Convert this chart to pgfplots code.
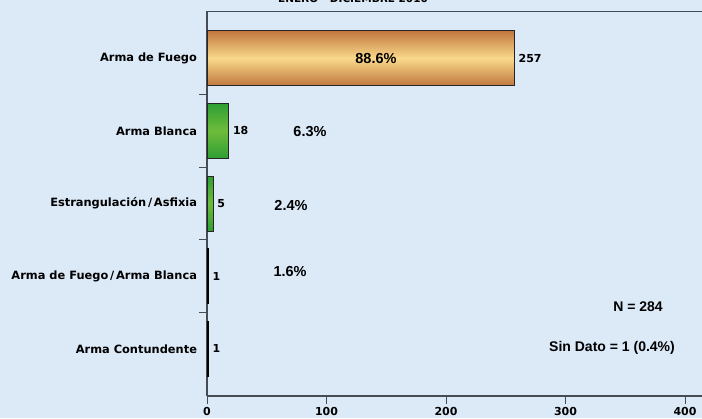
\documentclass[border=0pt]{standalone}
\usepackage{pgfplots}
\pgfplotsset{compat=1.18}
\usepackage{fontspec}
\newfontfamily\verd{DejaVu Sans}[BoldFont={DejaVu Sans Bold}]
\newfontfamily\arialb{Liberation Sans}[BoldFont={Liberation Sans Bold}]
\definecolor{bg}{HTML}{DCE9F7}
\definecolor{axisgray}{HTML}{454C55}
\definecolor{orEdge}{HTML}{C0773E}
\definecolor{orMid}{HTML}{FAD98B}
\definecolor{grEdge}{HTML}{2E9E34}
\definecolor{grMid}{HTML}{6EBC3B}
\newcommand{\wslash}{\kern1.8bp/\kern1.8bp}
\begin{document}
\begin{tikzpicture}[x=1bp,y=1bp]
\path[use as bounding box] (0,0) rectangle (702,418);
\begin{scope}
\clip (0,0) rectangle (702,418);
\fill[bg] (0,0) rectangle (702,418);
\node[anchor=base, inner sep=0pt, font=\verd\bfseries\fontsize{10.5bp}{12bp}\selectfont] at (353,415) {ENERO - DICIEMBRE 2010};
\begin{axis}[
  at={(207bp,22bp)}, anchor=south west,
  scale only axis, width=495bp, height=385bp,
  xmin=0, xmax=414.2, ymin=-0.65, ymax=4.65,
  axis x line*=bottom, axis y line*=left,
  axis line style={draw=axisgray, line width=1.8bp, -},
  tick align=outside,
  major tick length=8bp, minor tick length=8bp,
  tick style={draw=axisgray, line width=0.9bp},
  xtick={0,100,200,300,400},
  xticklabels={0,100,200,300,400},
  ytick={0,1,2,3,4},
  yticklabels={Arma Contundente, Arma de Fuego\wslash Arma Blanca, Estrangulación\wslash Asfixia, Arma Blanca, Arma de Fuego},
  major y tick style={draw=none},
  minor ytick={0.5,1.5,2.5,3.5},
  ticklabel style={font=\verd\bfseries\fontsize{11.4bp}{13bp}\selectfont, text=black},
  xticklabel style={font=\verd\bfseries\fontsize{11bp}{13bp}\selectfont},
  yticklabel style={xshift=1.5bp},
  /pgf/number format/assume math mode=true,
  xbar, bar width=55bp, bar shift=0pt,
]
\draw[axisgray, line width=1.8bp] (rel axis cs:0,1) -- (rel axis cs:1,1);
\addplot[xbar, bar width=55bp, bar shift=0pt, draw=black!85, line width=0.8bp,
  top color=orEdge, bottom color=orEdge, middle color=orMid]
  coordinates {(257,4)};
\addplot[xbar, bar width=55bp, bar shift=0pt, draw=black!85, line width=0.8bp,
  top color=grEdge, bottom color=grEdge, middle color=grMid]
  coordinates {(18,3)};
\addplot[xbar, bar width=55bp, bar shift=0pt, draw=black!85, line width=0.8bp,
  top color=grEdge, bottom color=grEdge, middle color=grMid]
  coordinates {(5,2)};
\addplot[xbar, bar width=55bp, bar shift=0pt, draw=black, line width=1bp, fill=grEdge]
  coordinates {(1,1)};
\addplot[xbar, bar width=55bp, bar shift=0pt, draw=black, line width=1bp, fill=grEdge]
  coordinates {(1,0)};
\addplot[xbar, bar width=55bp, bar shift=0pt, draw=none, fill=none,
  point meta=x, nodes near coords, nodes near coords align={horizontal},
  every node near coord/.append style={font=\verd\bfseries\fontsize{11bp}{13bp}\selectfont, text=black, xshift=1bp}]
  coordinates {(257,4) (18,3) (5,2) (1,1) (1,0)};
\node[font=\arialb\bfseries\fontsize{14.5bp}{16bp}\selectfont] at (axis cs:141.4,4) {88.6\%};
\node[font=\arialb\bfseries\fontsize{14.5bp}{16bp}\selectfont] at (axis cs:86.2,2.985) {6.3\%};
\node[font=\arialb\bfseries\fontsize{14.5bp}{16bp}\selectfont] at (axis cs:70.3,1.966) {2.4\%};
\node[font=\arialb\bfseries\fontsize{14.5bp}{16bp}\selectfont] at (axis cs:69.5,1.057) {1.6\%};
\node[font=\arialb\bfseries\fontsize{14bp}{16bp}\selectfont] at (axis cs:360.7,0.575) {N = 284};
\node[font=\arialb\bfseries\fontsize{14bp}{16bp}\selectfont] at (axis cs:338.9,0.011) {Sin Dato = 1 (0.4\%)};
\end{axis}
\end{scope}
\end{tikzpicture}
\end{document}
